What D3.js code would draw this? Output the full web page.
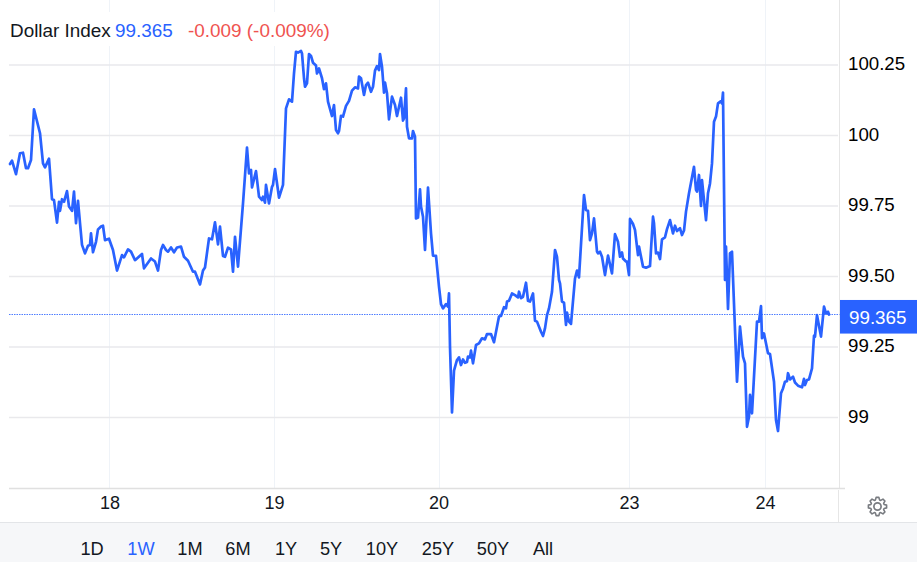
<!DOCTYPE html>
<html><head><meta charset="utf-8">
<script src="https://cdn.jsdelivr.net/npm/d3@7/dist/d3.min.js"></script>
<style>html,body{margin:0;padding:0;background:#fff}svg{display:block}text{font-family:"Liberation Sans",Arial,sans-serif}</style>
</head><body><svg id="c" width="917" height="562"></svg>
<script>
const title="Dollar Index", lastValue=99.365, changeText="-0.009 (-0.009%)";
const yTicks=[99,99.25,99.5,99.75,100,100.25];
const yTickLabels=["99","99.25","99.50","99.75","100","100.25"];
const dayTickSamples=[99.5,264,428.5,619,755];
const dayLabels=["18","19","20","23","24"];
const ranges=["1D","1W","1M","6M","1Y","5Y","10Y","25Y","50Y","All"];
const activeRange="1W";
const sampleIdx=[0,2,6,10,13,16,18,21,24,30,33,35,39,42,44,47,49,50,52,54,57,59,62,64,66,68,70,72,75,78,80,81,83,86,88,91,93,95,99,103,107,112,114,118,121,125,132,134,141,145,148,151,153,156,158,161,164,167,171,174,178,183,185,190,193,195,199,202,205,208,210,213,215,218,221,223,225,228,233,237,239,241,242,246,249,252,253,255,256,259,262,263,265,269,273,
276,279,282,284,286,288,291,292,294,295,297,299,301,303,306,307,309,312,314,316,318,320,322,324,326,328,329,331,333,336,339,342,345,348,349,351,354,356,358,361,363,365,367,369,370,372,374,375,377,379,382,385,387,391,393,394,396,397,399,402,403,405,406,408,410,411,413,415,418,421,423,426,429,431,433,436,438,439,440,442,444,447,449,451,453,455,457,458,460,461,463,466,469,472,475,477,481,484,487,489,491,494,496,497,499,502,505,508,509,511,513,516,518,520,523,525,527,531,533,535,537,539,542,545,547,549,550,552,554,556,557,559,561,
565,567,569,574,576,578,580,582,584,587,588,590,592,595,598,602,605,608,610,612,613,616,617,619,620,623,625,628,629,633,636,640,643,644,646,648,650,652,655,657,660,663,665,667,670,672,674,676,679,684,686,687,689,691,692,696,698,700,702,704,706,708,711,712,713,715,716,718,720,722,727,730,733,735,737,739,740,742,747,749,751,752,754,758,760,764,766,768,771,773,775,777,778,780,783,785,788,792,794,795,797,799,802,804,805,807,811,814,816,818,819];
const closes=[99.899,99.911,99.863,99.937,99.939,99.884,99.884,99.913,100.093,100.008,99.901,99.887,99.918,99.774,99.771,99.691,99.765,99.733,99.774,99.765,99.803,99.748,99.733,99.801,99.689,99.768,99.689,99.612,99.582,99.609,99.612,99.653,99.586,99.623,99.667,99.677,99.680,99.629,99.634,99.594,99.521,99.576,99.568,99.596,99.588,99.558,99.580,99.529,99.564,99.553,99.521,99.594,99.612,99.594,99.588,99.603,99.586,99.603,99.606,99.570,99.556,99.517,99.517,99.472,99.521,99.532,99.635,99.632,99.692,99.614,99.677,99.573,99.570,99.602,99.596,99.517,99.641,99.535,99.759,99.957,99.866,99.878,99.816,99.874,99.783,99.771,99.783,99.762,99.825,99.759,99.818,99.825,99.881,99.780,99.825,
100.096,100.128,100.120,100.220,100.297,100.294,100.300,100.291,100.203,100.173,100.185,100.289,100.282,100.258,100.248,100.220,100.238,100.203,100.164,100.185,100.120,100.094,100.069,100.108,100.019,100.008,100.016,100.070,100.067,100.105,100.123,100.159,100.171,100.167,100.209,100.203,100.144,100.179,100.187,100.155,100.173,100.230,100.246,100.232,100.289,100.244,100.152,100.188,100.150,100.057,100.138,100.108,100.069,100.134,100.053,100.061,100.167,100.031,99.990,99.990,100.016,99.996,99.706,99.709,99.809,99.748,99.712,99.594,99.815,99.653,99.574,99.573,99.464,99.402,99.387,99.402,99.393,99.440,99.251,99.018,99.166,99.204,99.213,99.186,99.206,99.194,99.197,99.216,99.213,99.237,99.192,99.257,99.263,99.281,99.277,99.296,99.296,99.267,99.322,99.358,99.360,99.391,99.387,99.411,99.414,99.440,99.434,99.426,99.446,99.423,99.428,99.478,99.414,99.411,99.440,99.343,99.340,99.304,99.289,99.316,99.363,99.387,99.446,99.594,99.570,99.488,99.476,99.411,99.407,99.328,99.372,99.340,99.332,
99.493,99.521,99.497,99.789,99.736,99.733,99.629,99.653,99.706,99.588,99.582,99.588,99.570,99.505,99.574,99.511,99.650,99.623,99.570,99.585,99.564,99.553,99.553,99.505,99.704,99.686,99.665,99.576,99.606,99.535,99.531,99.537,99.712,99.689,99.582,99.585,99.562,99.632,99.639,99.668,99.700,99.653,99.680,99.661,99.671,99.647,99.663,99.730,99.795,99.889,99.807,99.801,99.860,99.750,99.842,99.700,99.795,99.830,99.901,100.049,100.067,100.114,100.122,100.114,100.152,99.488,99.606,99.385,99.582,99.588,99.127,99.322,99.216,99.192,98.967,99.003,99.080,99.015,99.340,99.340,99.395,99.281,99.298,99.228,99.225,99.127,98.991,98.952,99.086,99.103,99.127,99.129,99.157,99.135,99.145,99.124,99.113,99.107,99.137,99.115,99.133,99.135,99.174,99.290,99.287,99.363,99.287,99.393,99.369,99.375,99.365];

const svg=d3.select("#c");
const x=d3.scaleLinear().domain([0,820]).range([10,830]);
const y=d3.scaleLinear().domain([99,100.25]).range([417.5,65]);
const plotL=9,plotR=838,axisX=839.5,axisY=488.5,bandY=522;
const blue="#2962ff",red="#ef5350",grid="#e9e9ec",vgrid="#eff3f8",ink="#131722";

svg.append("rect").attr("width",917).attr("height",562).attr("fill","#fff");
svg.append("rect").attr("x",0).attr("y",bandY).attr("width",917).attr("height",40).attr("fill","#f6f7f9");
svg.append("line").attr("x1",0).attr("x2",917).attr("y1",bandY+.5).attr("y2",bandY+.5).attr("stroke","#e3e5e8");

// vertical grid
svg.append("g").selectAll("line").data(dayTickSamples).join("line")
  .attr("x1",d=>Math.round(x(d))+.5).attr("x2",d=>Math.round(x(d))+.5).attr("y1",0).attr("y2",axisY).attr("stroke",vgrid);
// horizontal grid
svg.append("g").selectAll("line").data(yTicks).join("line")
  .attr("x1",plotL).attr("x2",plotR).attr("y1",d=>y(d)).attr("y2",d=>y(d)).attr("stroke",grid).attr("stroke-width",1.4);

// legend mask
svg.append("rect").attr("x",0).attr("y",12).attr("width",335).attr("height",34).attr("fill","#fff");

// axes frame
svg.append("line").attr("x1",axisX).attr("x2",axisX).attr("y1",0).attr("y2",axisY).attr("stroke","#e6e6e6");
svg.append("line").attr("x1",plotL).attr("x2",845).attr("y1",axisY).attr("y2",axisY).attr("stroke","#e0e0e0").attr("stroke-width",1.4);
svg.append("line").attr("x1",838.5).attr("x2",838.5).attr("y1",490).attr("y2",bandY).attr("stroke","#e6e6e6");

// last price dotted line
const lastY=Math.floor(y(lastValue))+.5;
svg.append("line").attr("x1",plotL).attr("x2",axisX).attr("y1",lastY).attr("y2",lastY)
  .attr("stroke","#4f7dff").attr("stroke-width",1).attr("stroke-dasharray","1.5 1");

// series
const pts=d3.zip(sampleIdx,closes);
svg.append("path").datum(pts).attr("fill","none").attr("stroke",blue).attr("stroke-width",2.7)
  .attr("stroke-linejoin","round").attr("stroke-linecap","round")
  .attr("d",d3.line().x(d=>x(d[0])).y(d=>y(d[1])));

// y axis
const yAxis=d3.axisRight(y).tickValues(yTicks).tickSize(0).tickPadding(0).tickFormat((d,i)=>yTickLabels[i]);
const gy=svg.append("g").attr("transform","translate(848,-1)").call(yAxis);
gy.select(".domain").remove();
gy.selectAll("text").attr("x",0).attr("font-size",18.7).attr("fill","#000").style("font-family",'"Liberation Sans"');

// x axis
const xAxis=d3.axisBottom(x).tickValues(dayTickSamples).tickSize(0).tickPadding(0).tickFormat((d,i)=>dayLabels[i]);
const gx=svg.append("g").attr("transform","translate(0,496)").call(xAxis);
gx.select(".domain").remove();
gx.selectAll("text").attr("y",0).attr("font-size",18).attr("fill",ink).style("font-family",'"Liberation Sans"');

// last price tag
svg.append("rect").attr("x",840).attr("y",y(lastValue)-14.6).attr("width",77).attr("height",33.6).attr("fill",blue);
svg.append("text").attr("x",849).attr("y",y(lastValue)+9.5).attr("fill","#fff").attr("font-size",18.8).text(d3.format(".3f")(lastValue));

// legend
const lg=svg.append("text").attr("y",36.5).attr("font-size",18.9);
lg.append("tspan").attr("x",10).attr("fill",ink).text(title);
lg.append("tspan").attr("x",115).attr("fill",blue).text(d3.format(".3f")(lastValue));
lg.append("tspan").attr("x",188).attr("fill",red).text(changeText);

// range selector
const rangeX=[92,141,190,238,286,331,382,438,493,543];
svg.append("g").selectAll("text").data(ranges).join("text")
  .attr("x",(d,i)=>rangeX[i]).attr("y",554.5).attr("text-anchor","middle").attr("font-size",18.2)
  .attr("fill",d=>d===activeRange?blue:ink).text(d=>d);

// gear icon
const gear=svg.append("g").attr("transform","translate(877.5,506.5)").attr("fill","none").attr("stroke","#787b80");
gear.append("circle").attr("r",3.6).attr("stroke-width",1.7);
const teeth=d3.range(8).flatMap(i=>{const a=i*Math.PI/4;
  return [[a-.3,6.9],[a-.15,9.2],[a+.15,9.2],[a+.3,6.9]];});
gear.append("path").attr("stroke-width",1.6).attr("stroke-linejoin","round")
  .attr("d",d3.lineRadial().angle(d=>d[0]).radius(d=>d[1]).curve(d3.curveLinearClosed)(teeth));
</script></body></html>
